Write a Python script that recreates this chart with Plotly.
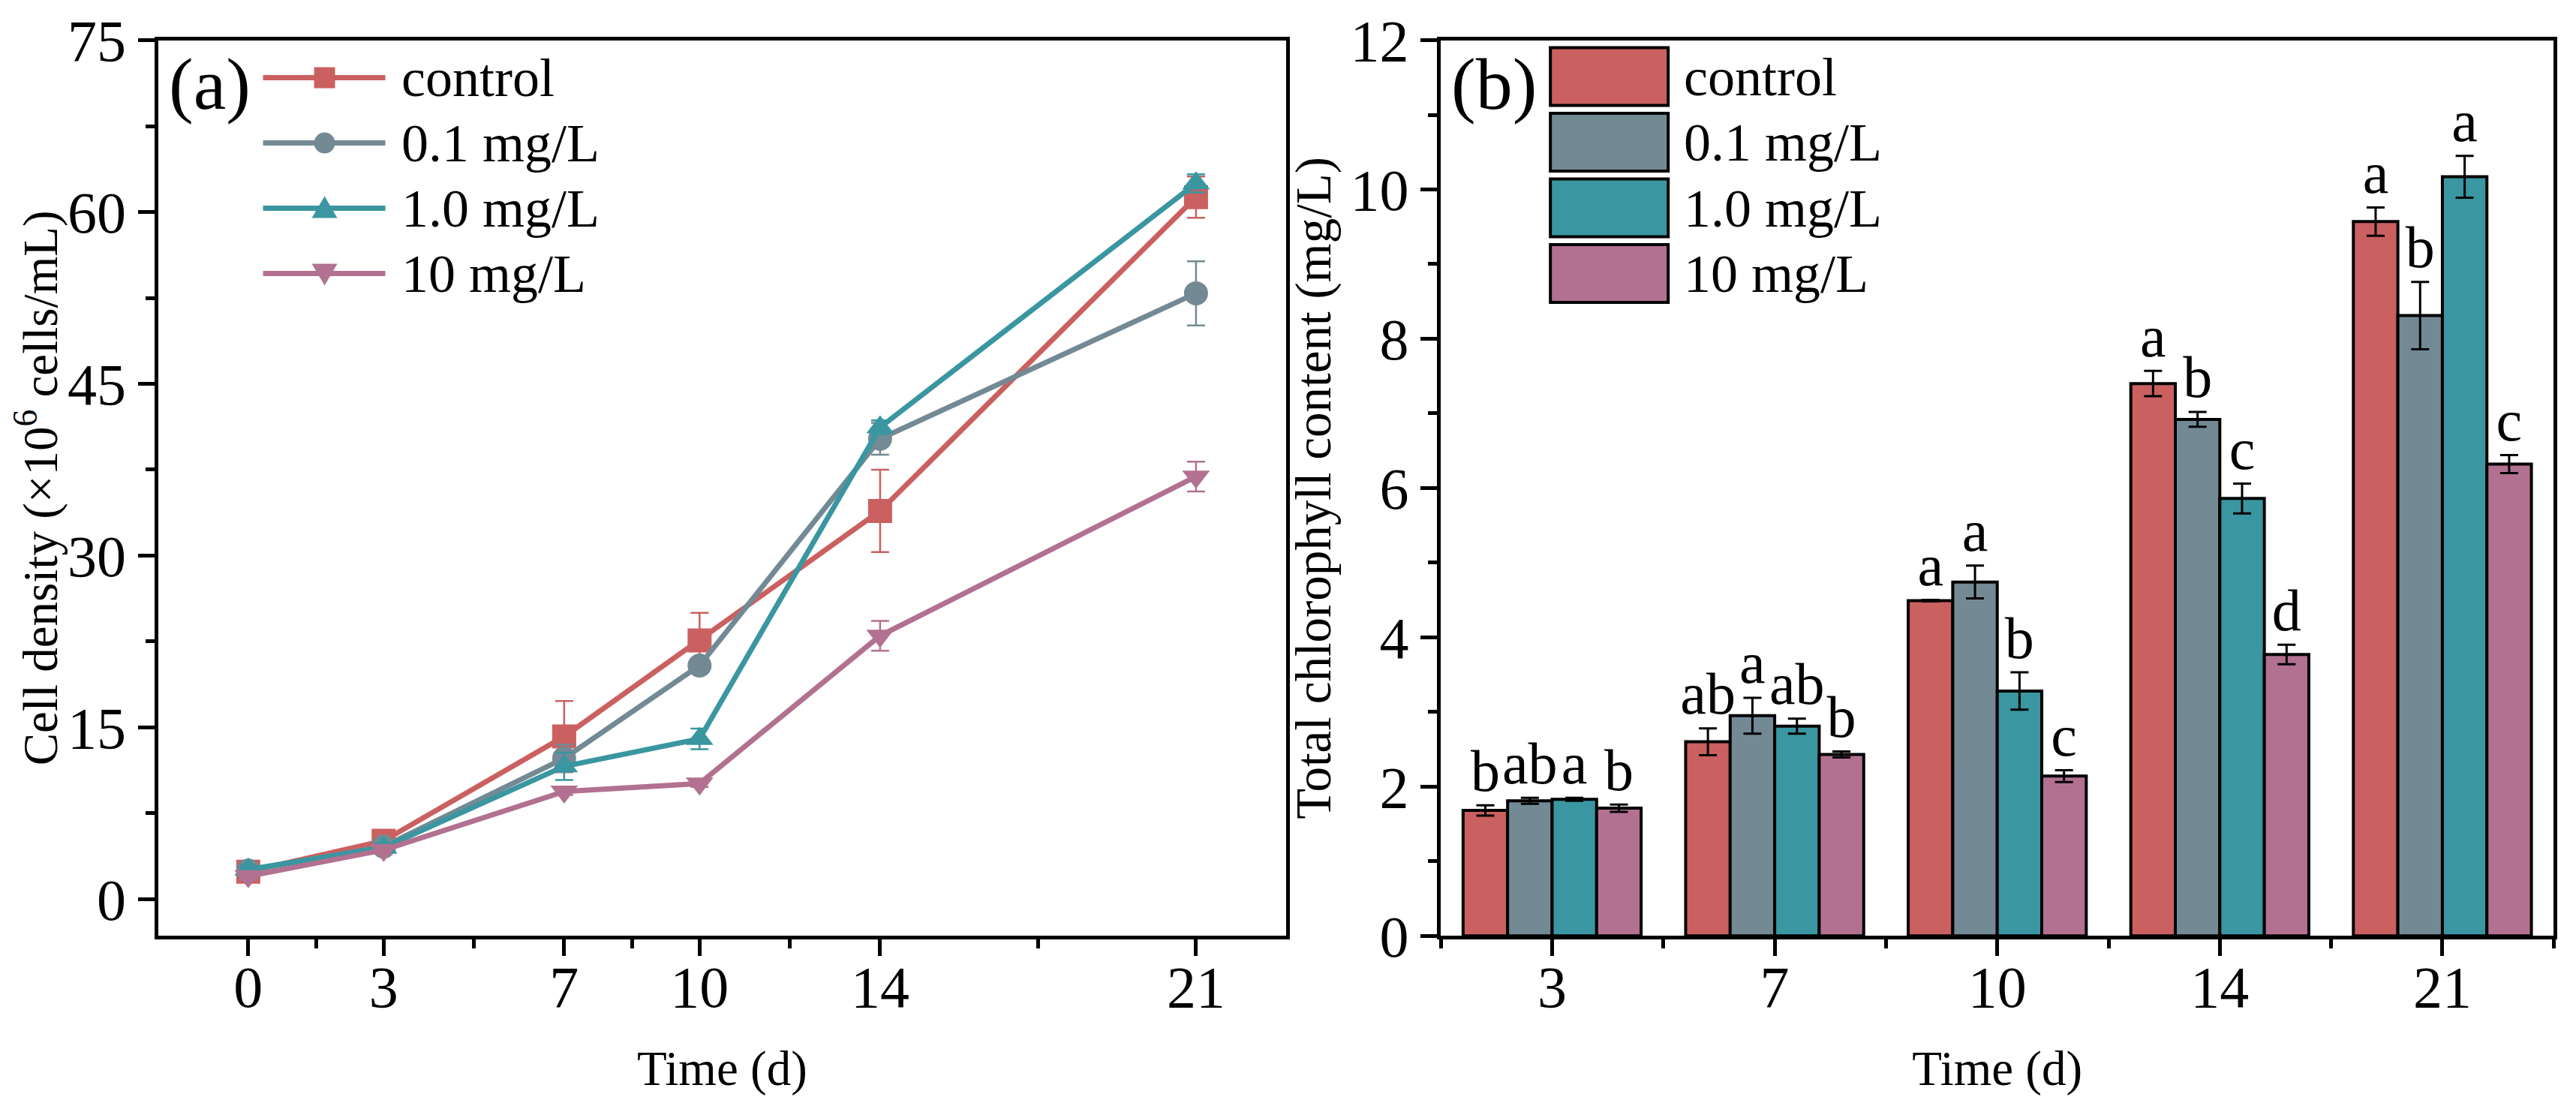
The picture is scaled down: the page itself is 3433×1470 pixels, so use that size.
import plotly.graph_objects as go

# ── Data ──────────────────────────────────────────────────────────────────────
SERIES  = ["control", "0.1 mg/L", "1.0 mg/L", "10 mg/L"]
COLOURS = ["#CB6060", "#738A95", "#3A96A0", "#B27191"]
SYMBOLS = ["square", "circle", "triangle-up", "triangle-down"]

# (a) cell density (x10^6 cells/mL)
days_a = [0, 3, 7, 10, 14, 21]
density_control = [2.4, 5.1, 14.2, 22.6, 33.9, 61.3]
density_01      = [2.5, 4.6, 12.3, 20.4, 40.2, 52.9]
density_10      = [2.6, 4.5, 11.6, 14.0, 41.2, 62.5]
density_100     = [2.0, 4.3, 9.4, 10.1, 23.0, 36.9]
density_err_control = [0.3, 0.4, 3.1, 2.4, 3.6, 1.8]
density_err_01      = [0.3, 0.3, 1.2, 0.6, 1.4, 2.8]
density_err_10      = [0.3, 0.4, 1.2, 0.9, 0.6, 0.8]
density_err_100     = [0.3, 0.3, 0.3, 0.3, 1.3, 1.3]

# (b) total chlorophyll (mg/L)
days_b = ["3", "7", "10", "14", "21"]
chl_control = [1.68, 2.60, 4.49, 7.40, 9.57]
chl_01      = [1.81, 2.95, 4.74, 6.92, 8.31]
chl_10      = [1.83, 2.81, 3.28, 5.86, 10.17]
chl_100     = [1.71, 2.43, 2.14, 3.77, 6.32]
chl_err_control = [0.07, 0.18, 0.01, 0.17, 0.19]
chl_err_01      = [0.04, 0.24, 0.22, 0.10, 0.45]
chl_err_10      = [0.02, 0.10, 0.25, 0.20, 0.28]
chl_err_100     = [0.05, 0.04, 0.08, 0.13, 0.12]
letters_control = ["b", "ab", "a", "a", "a"]
letters_01      = ["ab", "a", "a", "b", "b"]
letters_10      = ["a", "ab", "b", "c", "a"]
letters_100     = ["b", "b", "c", "d", "c"]

density     = [density_control, density_01, density_10, density_100]
density_err = [density_err_control, density_err_01, density_err_10, density_err_100]
chl         = [chl_control, chl_01, chl_10, chl_100]
chl_err     = [chl_err_control, chl_err_01, chl_err_10, chl_err_100]
letters     = [letters_control, letters_01, letters_10, letters_100]

FONT = "Liberation Serif"
TICK_SIZE  = 78
TITLE_SIZE = 65
LEG_SIZE   = 72
pos_b = list(range(len(days_b)))

fig = go.Figure()

# ── Panel (a): lines ─────────────────────────────────────────────────────────
for name, col, sym, vals, errs in zip(SERIES, COLOURS, SYMBOLS, density, density_err):
    fig.add_trace(go.Scatter(
        x=days_a, y=vals, name=name, mode="lines+markers",
        line=dict(color=col, width=7),
        marker=dict(symbol=sym, size=32, color=col),
        error_y=dict(type="data", array=errs, color=col, thickness=2.5, width=12),
        offsetgroup="a", showlegend=False, xaxis="x", yaxis="y",
    ))

# ── Panel (b): bars ──────────────────────────────────────────────────────────
for i, (name, col, vals, errs) in enumerate(zip(SERIES, COLOURS, chl, chl_err)):
    fig.add_trace(go.Bar(
        x=pos_b, y=vals, name=name, offsetgroup=str(i),
        marker=dict(color=col, line=dict(color="black", width=4)),
        error_y=dict(type="data", array=errs, color="black", thickness=3, width=12),
        showlegend=False, xaxis="x2", yaxis="y2",
    ))

for i, (vals, errs, labs) in enumerate(zip(chl, chl_err, letters)):
    fig.add_trace(go.Scatter(
        x=pos_b, y=[v + e for v, e in zip(vals, errs)], text=labs,
        mode="text", textposition="top center",
        textfont=dict(family=FONT, size=TICK_SIZE, color="black"),
        offsetgroup=str(i), showlegend=False, hoverinfo="skip",
        xaxis="x2", yaxis="y2", cliponaxis=False,
    ))

# ── Legends (drawn in pixels from each panel's top-left corner) ──────────────
ROW = 87
shapes, annotations = [], []
for i, (name, col, sym) in enumerate(zip(SERIES, COLOURS, SYMBOLS)):
    # panel (a): line + marker sample
    yc = -50 - i * ROW
    pix = dict(xref="x domain", yref="y domain", xsizemode="pixel",
               ysizemode="pixel", xanchor=0, yanchor=1)
    shapes.append(dict(type="line", **pix, x0=140, x1=303, y0=yc, y1=yc,
                       line=dict(color=col, width=7)))
    mx, r = 222, 14
    if sym == "square":
        shapes.append(dict(type="rect", **pix, x0=mx - r, x1=mx + r, y0=yc - r, y1=yc + r,
                           fillcolor=col, line=dict(width=0)))
    elif sym == "circle":
        shapes.append(dict(type="circle", **pix, x0=mx - r, x1=mx + r, y0=yc - r, y1=yc + r,
                           fillcolor=col, line=dict(width=0)))
    else:
        s = 1 if sym == "triangle-up" else -1
        path = f"M{mx - 17},{yc - 13 * s} L{mx + 17},{yc - 13 * s} L{mx},{yc + 16 * s} Z"
        shapes.append(dict(type="path", **pix, path=path, fillcolor=col, line=dict(width=0)))
    annotations.append(dict(
        text=name, xref="x domain", yref="y domain", x=0, y=1, xshift=322, yshift=yc,
        xanchor="left", yanchor="middle", showarrow=False,
        font=dict(family=FONT, size=LEG_SIZE, color="black"),
    ))

    # panel (b): filled box sample
    top = -10 - i * 87.5
    pix2 = dict(xref="x2 domain", yref="y2 domain", xsizemode="pixel",
                ysizemode="pixel", xanchor=0, yanchor=1)
    shapes.append(dict(type="rect", **pix2, x0=146, x1=303, y0=top, y1=top - 77,
                       fillcolor=col, line=dict(color="black", width=4)))
    annotations.append(dict(
        text=name, xref="x2 domain", yref="y2 domain", x=0, y=1, xshift=322,
        yshift=top - 39, xanchor="left", yanchor="middle", showarrow=False,
        font=dict(family=FONT, size=LEG_SIZE, color="black"),
    ))

for ax, lab in [("x", "(a)"), ("x2", "(b)")]:
    annotations.append(dict(
        text=lab, xref=f"{ax} domain", yref=f"{'y' if ax == 'x' else 'y2'} domain",
        x=0, y=1, xshift=12, yshift=-2, xanchor="left", yanchor="top", showarrow=False,
        font=dict(family=FONT, size=98, color="black"),
    ))

axis_common = dict(
    showline=True, linecolor="black", linewidth=5, mirror=True,
    ticks="outside", ticklen=22, tickwidth=5, tickcolor="black",
    showgrid=False, zeroline=False,
    tickfont=dict(family=FONT, size=TICK_SIZE, color="black"),
    automargin=False,
)
minor_style = dict(ticks="outside", ticklen=12, tickwidth=5, tickcolor="black")

minor_a = [(a + b) / 2 for a, b in zip(days_a, days_a[1:])]
minor_b = [p - 0.5 for p in pos_b] + [pos_b[-1] + 0.5]

fig.update_layout(
    width=3433, height=1470,
    plot_bgcolor="white", paper_bgcolor="white",
    margin=dict(l=0, r=0, t=0, b=0),
    barmode="group", bargap=0.2, bargroupgap=0,
    scattermode="group", scattergap=0.2,
    font=dict(family=FONT, color="black"),
    showlegend=False,
    xaxis=dict(
        **axis_common, domain=[0.059, 0.497], range=[-2, 23],
        tickmode="array", tickvals=days_a, ticklabelstandoff=-26,
        minor=dict(tickmode="array", tickvals=minor_a, **minor_style),
        title=dict(text="Time (d)", font=dict(family=FONT, size=TITLE_SIZE), standoff=44),
    ),
    yaxis=dict(
        **axis_common, domain=[0.157, 0.969], range=[-3.2, 75],
        tickmode="linear", tick0=0, dtick=15,
        minor=dict(dtick=7.5, **minor_style),
        title=dict(text="Cell density (×10<sup>6</sup> cells/mL)",
                   font=dict(family=FONT, size=TITLE_SIZE), standoff=0),
    ),
    xaxis2=dict(
        **axis_common, domain=[0.557, 0.989], range=[-0.5, 4.5], anchor="y2",
        tickmode="array", tickvals=pos_b, ticktext=days_b, ticklabelstandoff=-26,
        minor=dict(tickmode="array", tickvals=minor_b, **minor_style),
        title=dict(text="Time (d)", font=dict(family=FONT, size=TITLE_SIZE), standoff=44),
    ),
    yaxis2=dict(
        **axis_common, domain=[0.157, 0.969], range=[0, 12], anchor="x2",
        tickmode="linear", tick0=0, dtick=2,
        minor=dict(dtick=1, **minor_style),
        title=dict(text="Total chlorophyll content (mg/L)",
                   font=dict(family=FONT, size=TITLE_SIZE + 2), standoff=6),
    ),
    shapes=shapes,
    annotations=annotations,
)

fig.write_html("out.html")
